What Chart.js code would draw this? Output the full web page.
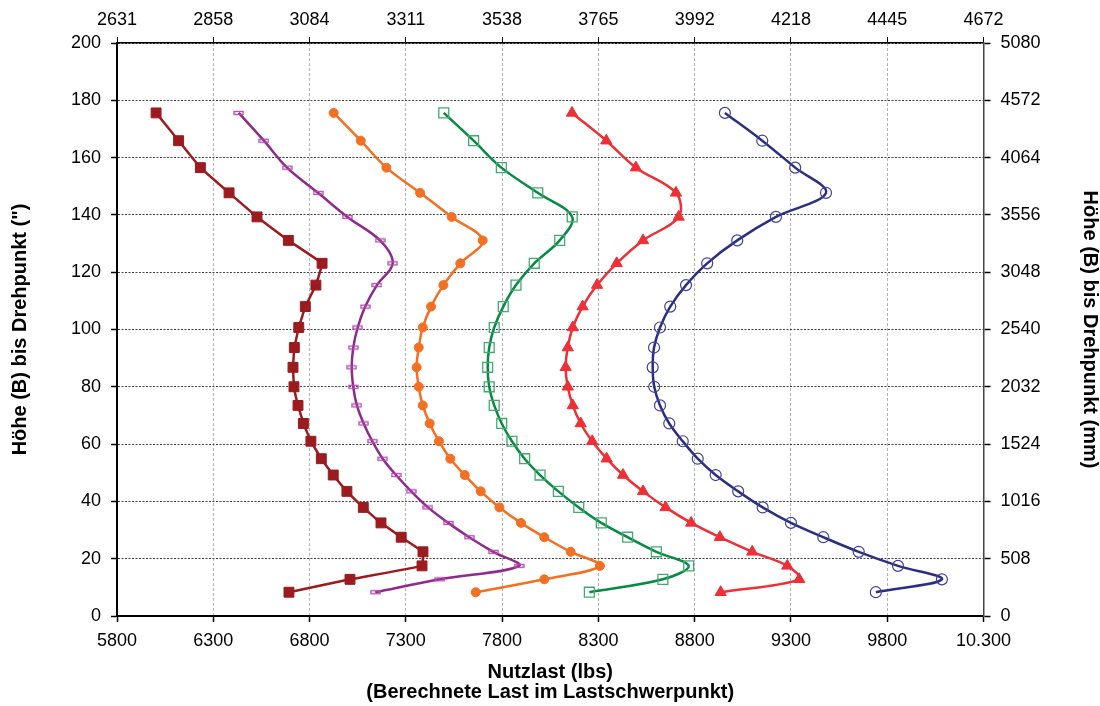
<!DOCTYPE html>
<html lang="de">
<head>
    <meta charset="UTF-8">
    <title>Nutzlast / Höhe bis Drehpunkt</title>
    <script src="https://cdn.jsdelivr.net/npm/chart.js"></script>
    <style>
        body { margin: 0; background: #fff; }
        #wrap { width: 1100px; height: 706px; }
    </style>
</head>
<body>
    <div id="wrap"><canvas id="loadChart" width="1100" height="706"></canvas></div>

    <script>
        // Höhe (B) bis Drehpunkt, inches - same for every curve
        const heights = [175.6, 165.9, 156.5, 147.7, 139.3, 131.1, 123.1, 115.5, 108.0, 100.7, 93.7, 86.8, 80.0,
                         73.5, 67.2, 61.0, 54.9, 49.2, 43.5, 37.9, 32.5, 27.5, 22.4, 17.5, 12.8, 8.3];

        // Nutzlast (lbs) per curve, top to bottom point
        const darkRedLoads = [6003, 6120, 6233, 6382, 6527, 6690, 6865, 6833, 6778, 6744, 6721, 6714, 6719,
                              6740, 6768, 6807, 6861, 6923, 6994, 7079, 7171, 7276, 7389, 7384, 7010, 6693];
        const purpleLoads = [6432, 6563, 6683, 6844, 6996, 7166, 7232, 7150, 7089, 7050, 7027, 7019, 7027,
                             7046, 7081, 7126, 7180, 7249, 7328, 7415, 7520, 7629, 7754, 7888, 7477, 7141];
        const orangeLoads = [6925, 7066, 7199, 7374, 7538, 7699, 7583, 7495, 7431, 7388, 7367, 7356, 7367,
                             7388, 7424, 7472, 7531, 7606, 7689, 7786, 7898, 8019, 8156, 8308, 8019, 7663];
        const greenLoads = [7497, 7652, 7796, 7985, 8164, 8099, 7967, 7872, 7806, 7759, 7733, 7725, 7733,
                            7759, 7798, 7851, 7917, 7997, 8092, 8198, 8315, 8452, 8601, 8769, 8635, 8253];
        const redLoads = [8163, 8341, 8495, 8703, 8717, 8532, 8395, 8293, 8218, 8167, 8141, 8130, 8141,
                          8167, 8208, 8268, 8343, 8428, 8532, 8649, 8782, 8931, 9099, 9281, 9343, 8935];
        const navyLoads = [8957, 9151, 9322, 9482, 9222, 9021, 8865, 8755, 8673, 8620, 8589, 8582, 8590,
                           8620, 8668, 8738, 8816, 8909, 9026, 9153, 9300, 9468, 9652, 9856, 10084, 9741];

        // Tick labels
        const bottomLabels = ['5800', '6300', '6800', '7300', '7800', '8300', '8800', '9300', '9800', '10.300'];
        const topLabels = ['2631', '2858', '3084', '3311', '3538', '3765', '3992', '4218', '4445', '4672'];
        const leftLabels = ['0', '20', '40', '60', '80', '100', '120', '140', '160', '180', '200'];
        const rightLabels = ['0', '508', '1016', '1524', '2032', '2540', '3048', '3556', '4064', '4572', '5080'];

        const FONT = "'Liberation Sans', Arial, sans-serif";

        function toPoints(loads) {
            return loads.map((x, i) => ({ x: x, y: heights[i] }));
        }

        // little open bar used as the purple marker
        function makeBarMarker(color) {
            const c = document.createElement('canvas');
            c.width = 11;
            c.height = 6;
            const g = c.getContext('2d');
            g.strokeStyle = color;
            g.lineWidth = 1.3;
            g.strokeRect(1, 1.5, 9, 3);
            return c;
        }

        function series(loads, color, opts) {
            return Object.assign({
                data: toPoints(loads),
                showLine: true,
                borderColor: color,
                borderWidth: 2.5,
                tension: 0.35,
                pointBorderColor: color,
                pointBackgroundColor: color,
                pointBorderWidth: 1,
                pointRadius: 5,
                pointHoverRadius: 5
            }, opts);
        }

        const datasets = [
            series(darkRedLoads, '#9b1b1f', { pointStyle: 'rect', pointRadius: 7, tension: 0.05 }),
            series(purpleLoads, '#8e2a8a', { pointStyle: makeBarMarker('#b04caa') }),
            series(orangeLoads, '#f36f24', { pointStyle: 'circle', pointRadius: 4.5 }),
            series(greenLoads, '#078a44', { pointStyle: 'rect', pointRadius: 7, pointBorderColor: '#45a870',
                                            pointBackgroundColor: 'rgba(0,0,0,0)', pointBorderWidth: 1.3 }),
            series(redLoads, '#ee2f35', { pointStyle: 'triangle', pointRadius: 6.5 }),
            series(navyLoads, '#2b2f7e', { pointStyle: 'circle', pointRadius: 5.5, pointBorderColor: '#3e4399',
                                           pointBackgroundColor: 'rgba(0,0,0,0)', pointBorderWidth: 1.2 })
        ];

        const tickFont = { family: FONT, size: 18 };
        const titleFont = { family: FONT, size: 20, weight: 'bold', lineHeight: 1.0 };

        new Chart(document.getElementById('loadChart'), {
            type: 'scatter',
            data: { datasets: datasets },
            options: {
                responsive: false,
                animation: false,
                events: [],
                layout: { padding: 0 },
                plugins: { legend: { display: false }, tooltip: { enabled: false } },
                scales: {
                    x: {
                        type: 'linear', position: 'bottom', min: 5800, max: 10300,
                        afterFit: s => { s.height = 90; },
                        ticks: { stepSize: 500, color: '#000', font: tickFont, padding: 8, maxRotation: 0,
                                 callback: (v, i) => bottomLabels[i] },
                        grid: { color: '#b4b4b4', lineWidth: 1, tickColor: '#000', tickLength: 6, tickWidth: 1.5 },
                        border: { color: '#000', width: 2, dash: [3, 2] },
                        title: { display: true, text: ['Nutzlast (lbs)', '(Berechnete Last im Lastschwerpunkt)'],
                                 color: '#000', font: titleFont, padding: { top: 0, bottom: 4 } }
                    },
                    x2: {
                        type: 'linear', position: 'top', min: 5800, max: 10300, display: true,
                        afterFit: s => { s.height = 43; },
                        ticks: { stepSize: 500, color: '#000', font: tickFont, padding: 6, maxRotation: 0,
                                 callback: (v, i) => topLabels[i] },
                        grid: { drawOnChartArea: false, tickColor: '#000', tickLength: 6, tickWidth: 1 },
                        border: { color: '#000', width: 1.5 }
                    },
                    y: {
                        type: 'linear', position: 'left', min: 0, max: 200,
                        afterFit: s => { s.width = 117; },
                        ticks: { stepSize: 20, color: '#000', font: tickFont, padding: 10,
                                 callback: (v, i) => leftLabels[i] },
                        grid: { color: '#444', lineWidth: 1, tickColor: '#000', tickLength: 6, tickWidth: 1.5 },
                        border: { color: '#000', width: 2, dash: [2, 1.5] },
                        title: { display: true, text: 'Höhe (B) bis Drehpunkt (")', color: '#000', font: titleFont,
                                 padding: { top: 10, bottom: 0 } }
                    },
                    y2: {
                        type: 'linear', position: 'right', min: 0, max: 200, display: true,
                        afterFit: s => { s.width = 116.5; },
                        ticks: { stepSize: 20, color: '#000', font: tickFont, padding: 10,
                                 callback: (v, i) => rightLabels[i] },
                        grid: { drawOnChartArea: false, tickColor: '#000', tickLength: 7, tickWidth: 1.5 },
                        border: { color: '#444', width: 1.5 },
                        title: { display: true, text: 'Höhe (B) bis Drehpunkt (mm)', color: '#000', font: titleFont,
                                 padding: { top: 0, bottom: 0 } }
                    }
                }
            }
        });
    </script>
</body>
</html>
